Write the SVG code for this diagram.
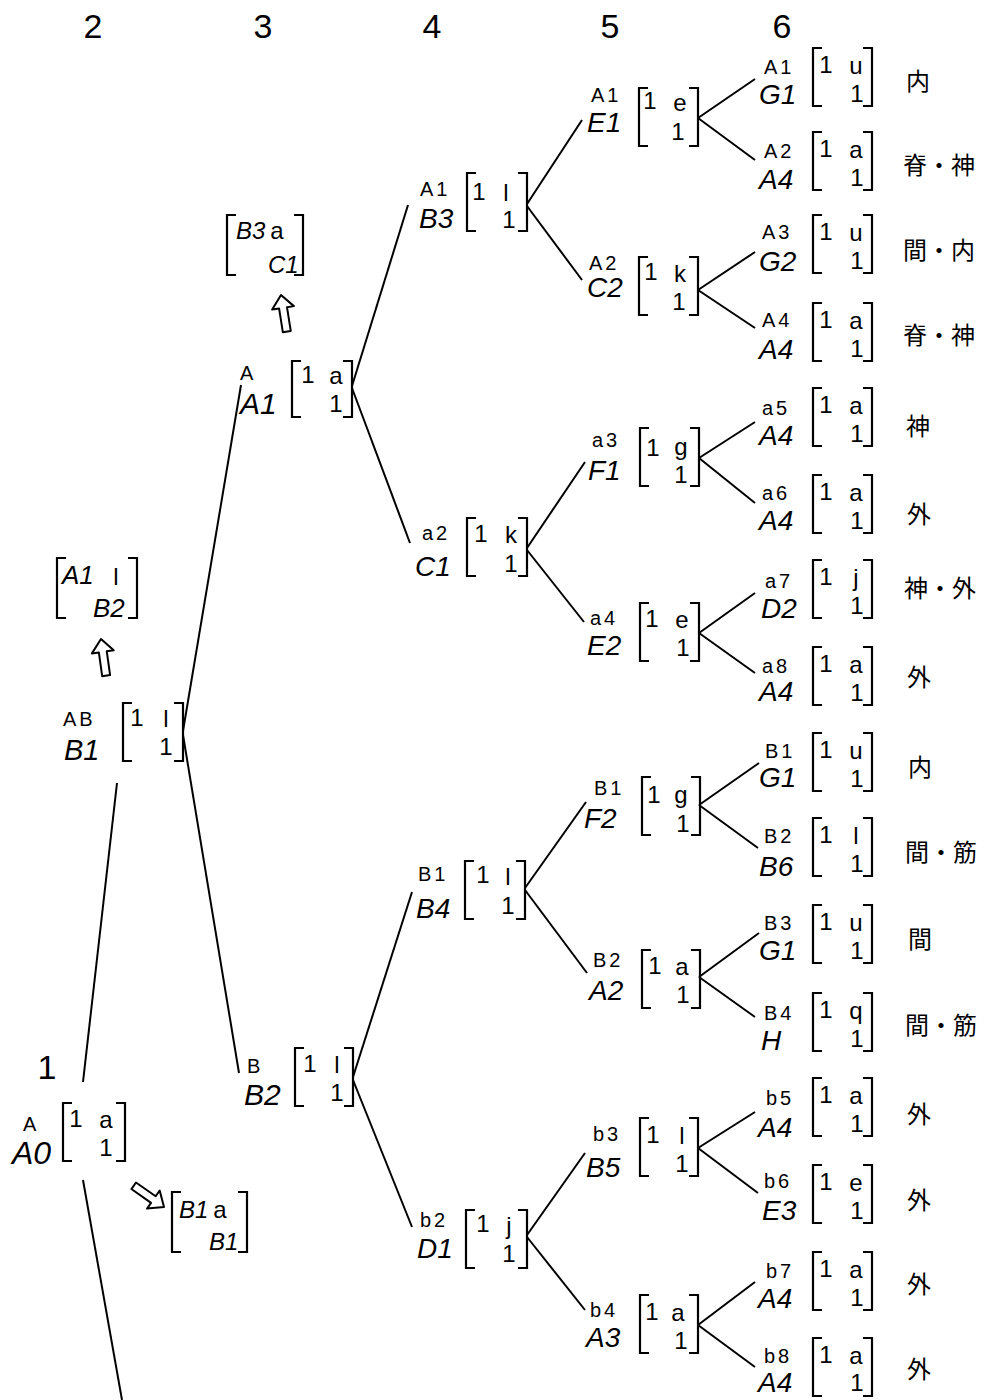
<svg xmlns="http://www.w3.org/2000/svg" width="1002" height="1400" viewBox="0 0 1002 1400">
<defs>
<style>
text{font-family:"Liberation Sans",Arial,sans-serif;fill:#000}
.h{font-size:34px;text-anchor:middle}
.s{font-size:20px;letter-spacing:3px}
.i{font-size:28px;font-style:italic}
.m{font-size:24px;text-anchor:middle}
.j{font-family:"Noto Sans CJK JP","Noto Sans CJK SC",sans-serif;font-size:24px}
.br{fill:none;stroke:#000;stroke-width:2.2}
.c line{stroke:#000;stroke-width:2;fill:none}
.ar{fill:#fff;stroke:#000;stroke-width:2;stroke-linejoin:round}
</style>
<path id="lb" d="M9,0 H0 V58 H9"/>
<path id="rb" d="M-9,0 H0 V58 H-9"/>
<path id="harrow" d="M0,0 L11,13 L4,13 L4,37 L-4,37 L-4,13 L-11,13 Z"/>
</defs>
<rect width="1002" height="1400" fill="#fff"/>

<g id="headers">
<text class="h" x="93" y="38">2</text>
<text class="h" x="263" y="38">3</text>
<text class="h" x="432" y="38">4</text>
<text class="h" x="610" y="38">5</text>
<text class="h" x="782" y="38">6</text>
<text class="h" x="47" y="1079">1</text>
</g>

<g id="connectors" class="c">
<line x1="83" y1="1082" x2="117" y2="783"/>
<line x1="83" y1="1180" x2="122" y2="1400"/>
<line x1="183" y1="731" x2="241" y2="385"/>
<line x1="183" y1="735" x2="239" y2="1073"/>
<line x1="352" y1="386" x2="408" y2="205"/>
<line x1="352" y1="388" x2="410" y2="543"/>
<line x1="353" y1="1077" x2="412" y2="892"/>
<line x1="353" y1="1080" x2="412" y2="1227"/>
<line x1="527" y1="204" x2="582" y2="120"/>
<line x1="527" y1="206" x2="582" y2="280"/>
<line x1="527" y1="548" x2="585" y2="462"/>
<line x1="527" y1="550" x2="584" y2="622"/>
<line x1="525" y1="888" x2="586" y2="802"/>
<line x1="525" y1="890" x2="587" y2="973"/>
<line x1="527" y1="1235" x2="585" y2="1153"/>
<line x1="527" y1="1237" x2="585" y2="1310"/>
<line x1="698" y1="118" x2="755" y2="79"/>
<line x1="698" y1="118" x2="755" y2="160"/>
<line x1="698" y1="290" x2="755" y2="252"/>
<line x1="698" y1="290" x2="755" y2="328"/>
<line x1="699" y1="458" x2="755" y2="422"/>
<line x1="699" y1="458" x2="755" y2="503"/>
<line x1="699" y1="633" x2="755" y2="593"/>
<line x1="699" y1="633" x2="755" y2="673"/>
<line x1="699" y1="805" x2="759" y2="763"/>
<line x1="699" y1="805" x2="758" y2="848"/>
<line x1="699" y1="977" x2="759" y2="933"/>
<line x1="699" y1="977" x2="755" y2="1017"/>
<line x1="698" y1="1148" x2="755" y2="1112"/>
<line x1="698" y1="1148" x2="758" y2="1193"/>
<line x1="698" y1="1325" x2="755" y2="1282"/>
<line x1="698" y1="1325" x2="755" y2="1367"/>
</g>

<g id="arrows">
<use href="#harrow" class="ar" transform="translate(101,639) rotate(-8)"/>
<use href="#harrow" class="ar" transform="translate(281,295) rotate(-9)"/>
<use href="#harrow" class="ar" transform="translate(164,1207) rotate(125)"/>
</g>

<g id="mat-A1l-B2">
<path class="br" d="M66,558 H57 V618 H66"/><path class="br" d="M128,558 H137 V618 H128"/>
<text class="i" x="62" y="584" style="font-size:26px">A1</text>
<text class="m" x="116" y="585">l</text>
<text class="i" x="93" y="617" style="font-size:26px">B2</text>
</g>
<g id="mat-B3a-C1">
<path class="br" d="M236,215 H227 V275 H236"/><path class="br" d="M294,215 H303 V275 H294"/>
<text class="i" x="236" y="239" style="font-size:24px">B3</text>
<text class="m" x="277" y="239">a</text>
<text class="i" x="268" y="273" style="font-size:24px">C1</text>
</g>
<g id="mat-B1a-B1">
<path class="br" d="M181,1192 H172 V1252 H181"/><path class="br" d="M238,1192 H247 V1252 H238"/>
<text class="i" x="179" y="1218" style="font-size:24px">B1</text>
<text class="m" x="220" y="1218">a</text>
<text class="i" x="209" y="1250" style="font-size:24px">B1</text>
</g>

<g id="n-A0">
<text class="s" x="23" y="1131">A</text>
<text class="i" x="12" y="1164" style="font-size:32px">A0</text>
<use href="#lb" class="br" x="63" y="1103"/><use href="#rb" class="br" x="125" y="1103"/>
<text class="m" x="76" y="1127">1</text><text class="m" x="106" y="1128">a</text><text class="m" x="106" y="1156">1</text>
</g>
<g id="n-B1">
<text class="s" x="63" y="726">AB</text>
<text class="i" x="64" y="760" style="font-size:29px">B1</text>
<use href="#lb" class="br" x="123" y="703"/><use href="#rb" class="br" x="183" y="703"/>
<text class="m" x="137" y="726">1</text><text class="m" x="166" y="727">l</text><text class="m" x="166" y="755">1</text>
</g>
<g id="n-A1">
<text class="s" x="240" y="380">A</text>
<text class="i" x="240" y="414" style="font-size:30px">A1</text>
<path class="br" d="M301,361 H292 V417 H301"/><path class="br" d="M343,361 H352 V417 H343"/>
<text class="m" x="308" y="383">1</text><text class="m" x="336" y="384">a</text><text class="m" x="336" y="412">1</text>
</g>
<g id="n-B2">
<text class="s" x="247" y="1073">B</text>
<text class="i" x="244" y="1105" style="font-size:30px">B2</text>
<use href="#lb" class="br" x="295" y="1048"/><use href="#rb" class="br" x="353" y="1048"/>
<text class="m" x="310" y="1072">1</text><text class="m" x="337" y="1073">l</text><text class="m" x="337" y="1101">1</text>
</g>

<g id="n-B3">
<text class="s" x="420" y="196">A1</text>
<text class="i" x="419" y="228">B3</text>
<use href="#lb" class="br" x="467" y="173"/><use href="#rb" class="br" x="527" y="173"/>
<text class="m" x="479" y="200">1</text><text class="m" x="506" y="201">l</text><text class="m" x="509" y="228">1</text>
</g>
<g id="n-C1">
<text class="s" x="422" y="540">a2</text>
<text class="i" x="415" y="576">C1</text>
<use href="#lb" class="br" x="467" y="518"/><use href="#rb" class="br" x="527" y="518"/>
<text class="m" x="481" y="542">1</text><text class="m" x="511" y="543">k</text><text class="m" x="511" y="572">1</text>
</g>
<g id="n-B4">
<text class="s" x="418" y="881">B1</text>
<text class="i" x="416" y="918">B4</text>
<use href="#lb" class="br" x="465" y="861"/><use href="#rb" class="br" x="525" y="861"/>
<text class="m" x="483" y="883">1</text><text class="m" x="508" y="885">l</text><text class="m" x="508" y="914">1</text>
</g>
<g id="n-D1">
<text class="s" x="420" y="1227">b2</text>
<text class="i" x="417" y="1258">D1</text>
<use href="#lb" class="br" x="466" y="1210"/><use href="#rb" class="br" x="527" y="1210"/>
<text class="m" x="483" y="1232">1</text><text class="m" x="509" y="1234">j</text><text class="m" x="509" y="1262">1</text>
</g>

<g id="n-E1">
<text class="s" x="591" y="102">A1</text>
<text class="i" x="587" y="132">E1</text>
<use href="#lb" class="br" x="639" y="88"/><use href="#rb" class="br" x="698" y="88"/>
<text class="m" x="650" y="109">1</text><text class="m" x="680" y="111">e</text><text class="m" x="678" y="140">1</text>
</g>
<g id="n-C2">
<text class="s" x="589" y="270">A2</text>
<text class="i" x="587" y="297">C2</text>
<use href="#lb" class="br" x="639" y="257"/><use href="#rb" class="br" x="698" y="257"/>
<text class="m" x="651" y="280">1</text><text class="m" x="680" y="282">k</text><text class="m" x="679" y="310">1</text>
</g>
<g id="n-F1">
<text class="s" x="592" y="447">a3</text>
<text class="i" x="588" y="480">F1</text>
<use href="#lb" class="br" x="640" y="428"/><use href="#rb" class="br" x="699" y="428"/>
<text class="m" x="653" y="456">1</text><text class="m" x="681" y="455">g</text><text class="m" x="681" y="483">1</text>
</g>
<g id="n-E2">
<text class="s" x="590" y="625">a4</text>
<text class="i" x="587" y="655">E2</text>
<use href="#lb" class="br" x="640" y="603"/><use href="#rb" class="br" x="699" y="603"/>
<text class="m" x="652" y="627">1</text><text class="m" x="682" y="628">e</text><text class="m" x="683" y="656">1</text>
</g>
<g id="n-F2">
<text class="s" x="594" y="795">B1</text>
<text class="i" x="584" y="828">F2</text>
<use href="#lb" class="br" x="642" y="777"/><use href="#rb" class="br" x="700" y="777"/>
<text class="m" x="654" y="803">1</text><text class="m" x="681" y="803">g</text><text class="m" x="683" y="832">1</text>
</g>
<g id="n-A2">
<text class="s" x="593" y="967">B2</text>
<text class="i" x="589" y="1000">A2</text>
<use href="#lb" class="br" x="642" y="950"/><use href="#rb" class="br" x="700" y="950"/>
<text class="m" x="655" y="974">1</text><text class="m" x="682" y="975">a</text><text class="m" x="683" y="1003">1</text>
</g>
<g id="n-B5">
<text class="s" x="593" y="1141">b3</text>
<text class="i" x="586" y="1177">B5</text>
<use href="#lb" class="br" x="640" y="1118"/><use href="#rb" class="br" x="698" y="1118"/>
<text class="m" x="653" y="1143">1</text><text class="m" x="682" y="1144">l</text><text class="m" x="682" y="1172">1</text>
</g>
<g id="n-A3">
<text class="s" x="590" y="1317">b4</text>
<text class="i" x="586" y="1347">A3</text>
<use href="#lb" class="br" x="640" y="1295"/><use href="#rb" class="br" x="698" y="1295"/>
<text class="m" x="652" y="1320">1</text><text class="m" x="678" y="1321">a</text><text class="m" x="681" y="1349">1</text>
</g>

<g id="leaf-1" transform="translate(0,48)">
<text class="s" x="764" y="26">A1</text><text class="i" x="759" y="56">G1</text>
<use href="#lb" class="br" x="813" y="0"/><use href="#rb" class="br" x="872" y="0"/>
<text class="m" x="826" y="25">1</text><text class="m" x="856" y="26">u</text><text class="m" x="857" y="54">1</text>
<text class="j" x="906" y="42">内</text>
</g>
<g id="leaf-2" transform="translate(0,132)">
<text class="s" x="764" y="26">A2</text><text class="i" x="759" y="57">A4</text>
<use href="#lb" class="br" x="813" y="0"/><use href="#rb" class="br" x="872" y="0"/>
<text class="m" x="826" y="25">1</text><text class="m" x="856" y="26">a</text><text class="m" x="857" y="54">1</text>
<text class="j" x="903" y="42">脊・神</text>
</g>
<g id="leaf-3" transform="translate(0,215)">
<text class="s" x="762" y="24">A3</text><text class="i" x="759" y="56">G2</text>
<use href="#lb" class="br" x="813" y="0"/><use href="#rb" class="br" x="872" y="0"/>
<text class="m" x="826" y="25">1</text><text class="m" x="856" y="26">u</text><text class="m" x="857" y="54">1</text>
<text class="j" x="903" y="44">間・内</text>
</g>
<g id="leaf-4" transform="translate(0,303)">
<text class="s" x="762" y="24">A4</text><text class="i" x="759" y="56">A4</text>
<use href="#lb" class="br" x="813" y="0"/><use href="#rb" class="br" x="872" y="0"/>
<text class="m" x="826" y="25">1</text><text class="m" x="856" y="26">a</text><text class="m" x="857" y="54">1</text>
<text class="j" x="903" y="41">脊・神</text>
</g>
<g id="leaf-5" transform="translate(0,388)">
<text class="s" x="762" y="27">a5</text><text class="i" x="759" y="57">A4</text>
<use href="#lb" class="br" x="813" y="0"/><use href="#rb" class="br" x="872" y="0"/>
<text class="m" x="826" y="25">1</text><text class="m" x="856" y="26">a</text><text class="m" x="857" y="54">1</text>
<text class="j" x="906" y="47">神</text>
</g>
<g id="leaf-6" transform="translate(0,475)">
<text class="s" x="762" y="25">a6</text><text class="i" x="759" y="55">A4</text>
<use href="#lb" class="br" x="813" y="0"/><use href="#rb" class="br" x="872" y="0"/>
<text class="m" x="826" y="25">1</text><text class="m" x="856" y="26">a</text><text class="m" x="857" y="54">1</text>
<text class="j" x="907" y="48">外</text>
</g>
<g id="leaf-7" transform="translate(0,560)">
<text class="s" x="765" y="28">a7</text><text class="i" x="761" y="58">D2</text>
<use href="#lb" class="br" x="813" y="0"/><use href="#rb" class="br" x="872" y="0"/>
<text class="m" x="826" y="25">1</text><text class="m" x="856" y="26">j</text><text class="m" x="857" y="54">1</text>
<text class="j" x="904" y="37">神・外</text>
</g>
<g id="leaf-8" transform="translate(0,647)">
<text class="s" x="762" y="26">a8</text><text class="i" x="759" y="54">A4</text>
<use href="#lb" class="br" x="813" y="0"/><use href="#rb" class="br" x="872" y="0"/>
<text class="m" x="826" y="25">1</text><text class="m" x="856" y="26">a</text><text class="m" x="857" y="54">1</text>
<text class="j" x="907" y="39">外</text>
</g>
<g id="leaf-9" transform="translate(0,733)">
<text class="s" x="765" y="25">B1</text><text class="i" x="759" y="54">G1</text>
<use href="#lb" class="br" x="813" y="0"/><use href="#rb" class="br" x="872" y="0"/>
<text class="m" x="826" y="25">1</text><text class="m" x="856" y="26">u</text><text class="m" x="857" y="54">1</text>
<text class="j" x="908" y="43">内</text>
</g>
<g id="leaf-10" transform="translate(0,818)">
<text class="s" x="764" y="25">B2</text><text class="i" x="759" y="58">B6</text>
<use href="#lb" class="br" x="813" y="0"/><use href="#rb" class="br" x="872" y="0"/>
<text class="m" x="826" y="25">1</text><text class="m" x="856" y="26">l</text><text class="m" x="857" y="54">1</text>
<text class="j" x="905" y="43">間・筋</text>
</g>
<g id="leaf-11" transform="translate(0,905)">
<text class="s" x="764" y="25">B3</text><text class="i" x="759" y="55">G1</text>
<use href="#lb" class="br" x="813" y="0"/><use href="#rb" class="br" x="872" y="0"/>
<text class="m" x="826" y="25">1</text><text class="m" x="856" y="26">u</text><text class="m" x="857" y="54">1</text>
<text class="j" x="908" y="43">間</text>
</g>
<g id="leaf-12" transform="translate(0,993)">
<text class="s" x="764" y="27">B4</text><text class="i" x="761" y="57">H</text>
<use href="#lb" class="br" x="813" y="0"/><use href="#rb" class="br" x="872" y="0"/>
<text class="m" x="826" y="25">1</text><text class="m" x="856" y="26">q</text><text class="m" x="857" y="54">1</text>
<text class="j" x="905" y="41">間・筋</text>
</g>
<g id="leaf-13" transform="translate(0,1078)">
<text class="s" x="766" y="27">b5</text><text class="i" x="758" y="59">A4</text>
<use href="#lb" class="br" x="813" y="0"/><use href="#rb" class="br" x="872" y="0"/>
<text class="m" x="826" y="25">1</text><text class="m" x="856" y="26">a</text><text class="m" x="857" y="54">1</text>
<text class="j" x="907" y="45">外</text>
</g>
<g id="leaf-14" transform="translate(0,1165)">
<text class="s" x="764" y="23">b6</text><text class="i" x="762" y="55">E3</text>
<use href="#lb" class="br" x="813" y="0"/><use href="#rb" class="br" x="872" y="0"/>
<text class="m" x="826" y="25">1</text><text class="m" x="856" y="26">e</text><text class="m" x="857" y="54">1</text>
<text class="j" x="907" y="44">外</text>
</g>
<g id="leaf-15" transform="translate(0,1252)">
<text class="s" x="766" y="26">b7</text><text class="i" x="758" y="56">A4</text>
<use href="#lb" class="br" x="813" y="0"/><use href="#rb" class="br" x="872" y="0"/>
<text class="m" x="826" y="25">1</text><text class="m" x="856" y="26">a</text><text class="m" x="857" y="54">1</text>
<text class="j" x="907" y="41">外</text>
</g>
<g id="leaf-16" transform="translate(0,1338)">
<text class="s" x="764" y="25">b8</text><text class="i" x="758" y="54">A4</text>
<use href="#lb" class="br" x="813" y="0"/><use href="#rb" class="br" x="872" y="0"/>
<text class="m" x="826" y="25">1</text><text class="m" x="856" y="26">a</text><text class="m" x="857" y="53">1</text>
<text class="j" x="907" y="40">外</text>
</g>
</svg>
